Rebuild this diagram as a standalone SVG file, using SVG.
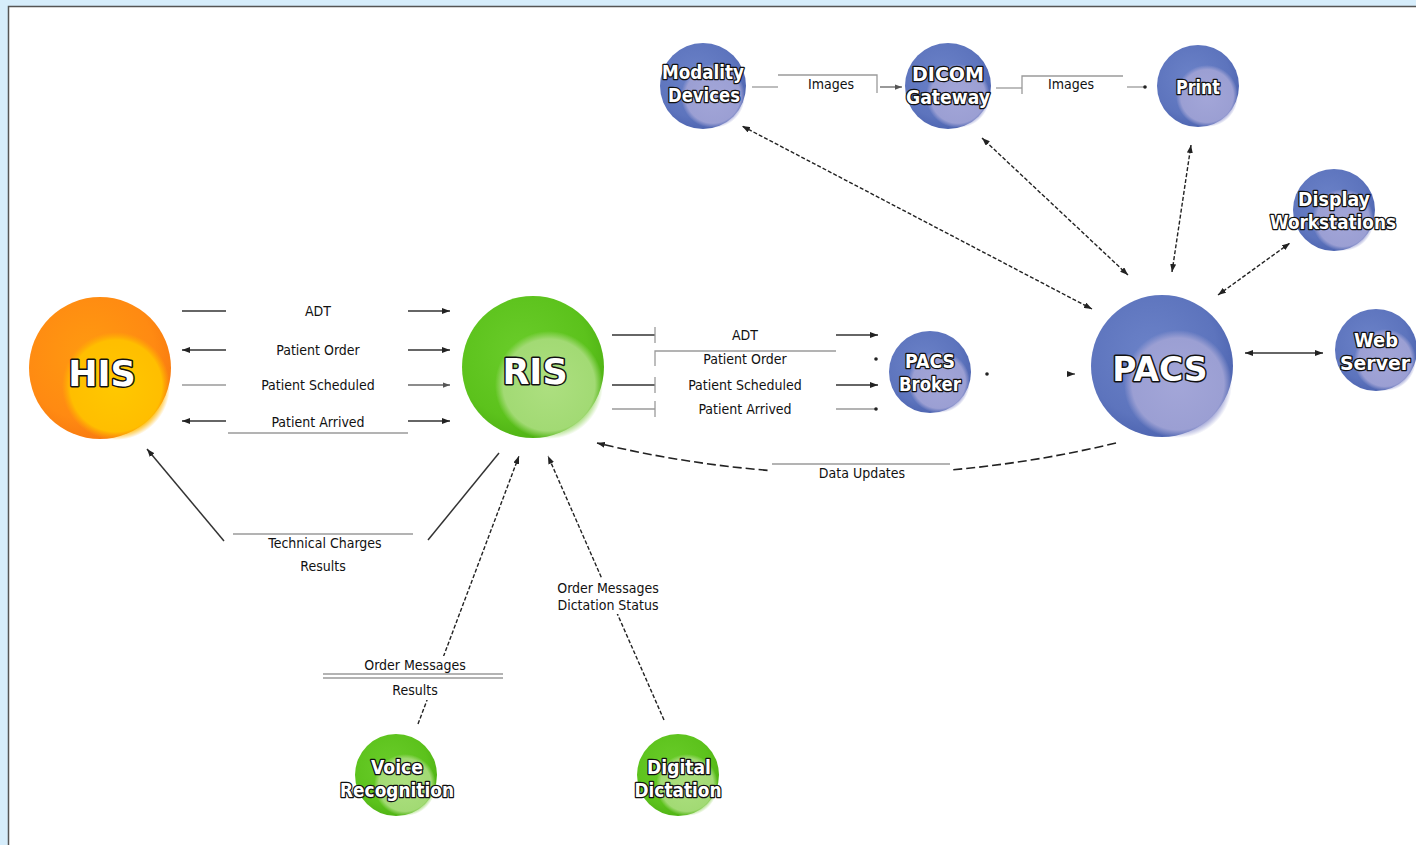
<svg xmlns="http://www.w3.org/2000/svg" width="1416" height="845" viewBox="0 0 1416 845">
<defs>
<radialGradient id="gBlue" cx="0.42" cy="0.4" r="0.62"><stop offset="0" stop-color="#6b82c8"/><stop offset="0.75" stop-color="#5d74bd"/><stop offset="1" stop-color="#4d64b0"/></radialGradient>
<radialGradient id="hBlue" cx="0.5" cy="0.5" r="0.5"><stop offset="0" stop-color="#a3a6d8"/><stop offset="0.85" stop-color="#9b9fd3"/><stop offset="1" stop-color="#9b9fd3" stop-opacity="0"/></radialGradient>
<radialGradient id="gGreen" cx="0.42" cy="0.4" r="0.62"><stop offset="0" stop-color="#6acc2a"/><stop offset="0.75" stop-color="#5cc21c"/><stop offset="1" stop-color="#4fb214"/></radialGradient>
<radialGradient id="hGreen" cx="0.5" cy="0.5" r="0.5"><stop offset="0" stop-color="#addf80"/><stop offset="0.85" stop-color="#a2da74"/><stop offset="1" stop-color="#a2da74" stop-opacity="0"/></radialGradient>
<radialGradient id="gOrange" cx="0.42" cy="0.4" r="0.62"><stop offset="0" stop-color="#ff9a10"/><stop offset="0.75" stop-color="#ff8a12"/><stop offset="1" stop-color="#f87a10"/></radialGradient>
<radialGradient id="hOrange" cx="0.5" cy="0.5" r="0.5"><stop offset="0" stop-color="#ffc800"/><stop offset="0.85" stop-color="#ffbe00"/><stop offset="1" stop-color="#ffb000" stop-opacity="0"/></radialGradient>
<marker id="ar" viewBox="0 0 8 6" refX="8" refY="3" markerWidth="8" markerHeight="6" markerUnits="userSpaceOnUse" orient="auto-start-reverse"><path d="M0,0 L8,3 L0,6 z" fill="#222"/></marker>
<marker id="arg" viewBox="0 0 8 6" refX="8" refY="3" markerWidth="7" markerHeight="6" markerUnits="userSpaceOnUse" orient="auto-start-reverse"><path d="M0,0 L8,3 L0,6 z" fill="#555"/></marker>
</defs>
<style>
.big{font-family:"DejaVu Sans",sans-serif;font-weight:bold;fill:#fff;stroke:#111;stroke-width:3;paint-order:stroke;stroke-linejoin:round;text-anchor:middle}
.sm{font-family:"DejaVu Sans Condensed","DejaVu Sans",sans-serif;font-weight:bold;font-size:19px;fill:#fff;stroke:#111;stroke-width:2.5;paint-order:stroke;stroke-linejoin:round;text-anchor:middle}
.lb{font-family:"DejaVu Sans Condensed","DejaVu Sans",sans-serif;font-size:14px;fill:#111;text-anchor:middle}
.dk{stroke:#333;stroke-width:1.5;fill:none}
.gr{stroke:#9a9a9a;stroke-width:1.3;fill:none}
.ds{stroke:#222;stroke-width:1.4;fill:none;stroke-dasharray:4 2}
.dl{stroke:#222;stroke-width:1.6;fill:none;stroke-dasharray:9 4}
</style>
<rect x="0" y="0" width="1416" height="845" fill="#d6edfb"/>
<rect x="8" y="6" width="1410" height="842" fill="#fff"/>
<path d="M8.5,845 V6.5 H1416" stroke="#555" stroke-width="1.5" fill="none"/>

<g id="connectors">
  <!-- HIS - RIS -->
  <line class="dk" x1="182" y1="311" x2="226" y2="311"/>
  <line class="dk" x1="408" y1="311" x2="450" y2="311" marker-end="url(#ar)"/>
  <line class="dk" x1="226" y1="350" x2="182" y2="350" marker-end="url(#ar)"/>
  <line class="dk" x1="408" y1="350" x2="450" y2="350" marker-end="url(#ar)"/>
  <line class="gr" x1="182" y1="385" x2="226" y2="385"/>
  <line x1="408" y1="385" x2="450" y2="385" stroke="#666" stroke-width="1.4" marker-end="url(#arg)"/>
  <line class="dk" x1="226" y1="421" x2="182" y2="421" marker-end="url(#ar)"/>
  <line class="dk" x1="408" y1="421" x2="450" y2="421" marker-end="url(#ar)"/>
  <line class="gr" x1="228" y1="433" x2="408" y2="433"/>
  <!-- RIS - PACS Broker -->
  <line class="dk" x1="612" y1="335" x2="655" y2="335"/>
  <line class="gr" x1="655" y1="327" x2="655" y2="343"/>
  <line class="dk" x1="836" y1="335" x2="878" y2="335" marker-end="url(#ar)"/>
  <path class="gr" d="M655,366 V351 H836"/>
  <circle cx="876" cy="359" r="1.8" fill="#222"/>
  <line class="dk" x1="612" y1="385" x2="655" y2="385"/>
  <line class="gr" x1="655" y1="377" x2="655" y2="393"/>
  <line class="dk" x1="836" y1="385" x2="878" y2="385" marker-end="url(#ar)"/>
  <line class="gr" x1="612" y1="409" x2="655" y2="409"/>
  <line class="gr" x1="655" y1="401" x2="655" y2="417"/>
  <line class="gr" x1="836" y1="409" x2="876" y2="409"/>
  <circle cx="876" cy="409" r="1.8" fill="#222"/>
  <!-- Broker - PACS -->
  <circle cx="987" cy="374" r="1.8" fill="#222"/>
  <line x1="1068" y1="374" x2="1075" y2="374" stroke="#222" stroke-width="1" marker-end="url(#ar)"/>
  <!-- Modality - DICOM - Print -->
  <line class="gr" x1="752" y1="87" x2="778" y2="87"/>
  <path class="gr" d="M778,75 H877 V93"/>
  <line x1="880" y1="87" x2="902" y2="87" stroke="#555" stroke-width="1.2" marker-end="url(#arg)"/>
  <line class="gr" x1="996" y1="88" x2="1022" y2="88"/>
  <path class="gr" d="M1022,94 V76 H1123"/>
  <line class="gr" x1="1127" y1="87" x2="1145" y2="87"/>
  <circle cx="1145" cy="87" r="1.8" fill="#222"/>
  <!-- PACS spokes -->
  <line class="ds" x1="1092" y1="309" x2="742" y2="126" marker-start="url(#ar)" marker-end="url(#ar)"/>
  <line class="ds" x1="1128" y1="275" x2="982" y2="138" marker-start="url(#ar)" marker-end="url(#ar)"/>
  <line class="ds" x1="1172" y1="272" x2="1191" y2="145" marker-start="url(#ar)" marker-end="url(#ar)"/>
  <line class="ds" x1="1218" y1="295" x2="1290" y2="243" marker-start="url(#ar)" marker-end="url(#ar)"/>
  <line class="dk" x1="1245" y1="353" x2="1323" y2="353" marker-start="url(#ar)" marker-end="url(#ar)"/>
  <!-- Data updates -->
  <path class="dl" d="M1116,443 Q857,505 597,443" marker-end="url(#ar)"/>
  <rect x="770" y="463" width="182" height="24" fill="#fff"/>
  <line class="gr" x1="772" y1="464" x2="950" y2="464"/>
  <!-- Technical charges -->
  <line class="dk" x1="224" y1="541" x2="147" y2="449" marker-end="url(#ar)"/>
  <line class="dk" x1="428" y1="540" x2="499" y2="453"/>
  <line class="gr" x1="233" y1="534" x2="413" y2="534"/>
  <!-- Voice -> RIS -->
  <line class="ds" x1="418" y1="724" x2="519" y2="456" marker-end="url(#ar)"/>
  <rect x="355" y="656" width="120" height="44" fill="#fff"/>
  <line class="gr" x1="323" y1="674" x2="503" y2="674"/>
  <line class="gr" x1="323" y1="678" x2="503" y2="678"/>
  <!-- Dictation -> RIS -->
  <line class="ds" x1="664" y1="720" x2="548" y2="456" marker-end="url(#ar)"/>
  <rect x="550" y="578" width="118" height="36" fill="#fff"/>
</g>

<g id="labels">
  <text class="lb" x="318" y="316">ADT</text>
  <text class="lb" x="318" y="355">Patient Order</text>
  <text class="lb" x="318" y="390">Patient Scheduled</text>
  <text class="lb" x="318" y="427">Patient Arrived</text>
  <text class="lb" x="745" y="340">ADT</text>
  <text class="lb" x="745" y="364">Patient Order</text>
  <text class="lb" x="745" y="390">Patient Scheduled</text>
  <text class="lb" x="745" y="414">Patient Arrived</text>
  <text class="lb" x="831" y="89">Images</text>
  <text class="lb" x="1071" y="89">Images</text>
  <text class="lb" x="862" y="478">Data Updates</text>
  <text class="lb" x="325" y="548">Technical Charges</text>
  <text class="lb" x="323" y="571">Results</text>
  <text class="lb" x="415" y="670">Order Messages</text>
  <text class="lb" x="415" y="695">Results</text>
  <text class="lb" x="608" y="593">Order Messages</text>
  <text class="lb" x="608" y="610">Dictation Status</text>
</g>

<g id="HIS">
  <circle cx="100" cy="368" r="71" fill="url(#gOrange)"/>
  <circle cx="116" cy="386" r="54" fill="url(#hOrange)"/>
  <text class="big" x="102" y="386" font-size="35">HIS</text>
</g>
<g id="RIS">
  <circle cx="533" cy="367" r="71" fill="url(#gGreen)"/>
  <circle cx="549" cy="385" r="54" fill="url(#hGreen)"/>
  <text class="big" x="535" y="384" font-size="35">RIS</text>
</g>
<g id="PACS">
  <circle cx="1162" cy="366" r="71" fill="url(#gBlue)"/>
  <circle cx="1178" cy="384" r="54" fill="url(#hBlue)"/>
  <text class="big" x="1160" y="381" font-size="33">PACS</text>
</g>
<g id="PACSBroker">
  <circle cx="930" cy="372" r="41" fill="url(#gBlue)"/>
  <circle cx="939" cy="382" r="31" fill="url(#hBlue)"/>
  <text class="sm" x="930" y="368" textLength="50" lengthAdjust="spacingAndGlyphs">PACS</text>
  <text class="sm" x="930" y="391" textLength="62" lengthAdjust="spacingAndGlyphs">Broker</text>
</g>
<g id="ModalityDevices">
  <circle cx="703" cy="86" r="43" fill="url(#gBlue)"/>
  <circle cx="713" cy="96" r="32" fill="url(#hBlue)"/>
  <text class="sm" x="703" y="79" textLength="82" lengthAdjust="spacingAndGlyphs">Modality</text>
  <text class="sm" x="704" y="102" textLength="72" lengthAdjust="spacingAndGlyphs">Devices</text>
</g>
<g id="DICOMGateway">
  <circle cx="948" cy="86" r="43" fill="url(#gBlue)"/>
  <circle cx="958" cy="96" r="32" fill="url(#hBlue)"/>
  <text class="sm" x="948" y="81" textLength="72" lengthAdjust="spacingAndGlyphs">DICOM</text>
  <text class="sm" x="948" y="104" textLength="84" lengthAdjust="spacingAndGlyphs">Gateway</text>
</g>
<g id="Print">
  <circle cx="1198" cy="86" r="41" fill="url(#gBlue)"/>
  <circle cx="1207" cy="96" r="31" fill="url(#hBlue)"/>
  <text class="sm" x="1198" y="94" textLength="44" lengthAdjust="spacingAndGlyphs">Print</text>
</g>
<g id="DisplayWorkstations">
  <circle cx="1334" cy="210" r="41" fill="url(#gBlue)"/>
  <circle cx="1343" cy="220" r="31" fill="url(#hBlue)"/>
  <text class="sm" x="1334" y="206" textLength="72" lengthAdjust="spacingAndGlyphs">Display</text>
  <text class="sm" x="1333" y="229" textLength="126" lengthAdjust="spacingAndGlyphs">Workstations</text>
</g>
<g id="WebServer">
  <circle cx="1376" cy="350" r="41" fill="url(#gBlue)"/>
  <circle cx="1385" cy="360" r="31" fill="url(#hBlue)"/>
  <text class="sm" x="1376" y="347" textLength="44" lengthAdjust="spacingAndGlyphs">Web</text>
  <text class="sm" x="1375" y="370" textLength="70" lengthAdjust="spacingAndGlyphs">Server</text>
</g>
<g id="VoiceRecognition">
  <circle cx="396" cy="775" r="41" fill="url(#gGreen)"/>
  <circle cx="405" cy="785" r="31" fill="url(#hGreen)"/>
  <text class="sm" x="397" y="774" textLength="52" lengthAdjust="spacingAndGlyphs">Voice</text>
  <text class="sm" x="397" y="797" textLength="114" lengthAdjust="spacingAndGlyphs">Recognition</text>
</g>
<g id="DigitalDictation">
  <circle cx="678" cy="775" r="41" fill="url(#gGreen)"/>
  <circle cx="687" cy="785" r="31" fill="url(#hGreen)"/>
  <text class="sm" x="679" y="774" textLength="64" lengthAdjust="spacingAndGlyphs">Digital</text>
  <text class="sm" x="678" y="797" textLength="87" lengthAdjust="spacingAndGlyphs">Dictation</text>
</g>
</svg>
